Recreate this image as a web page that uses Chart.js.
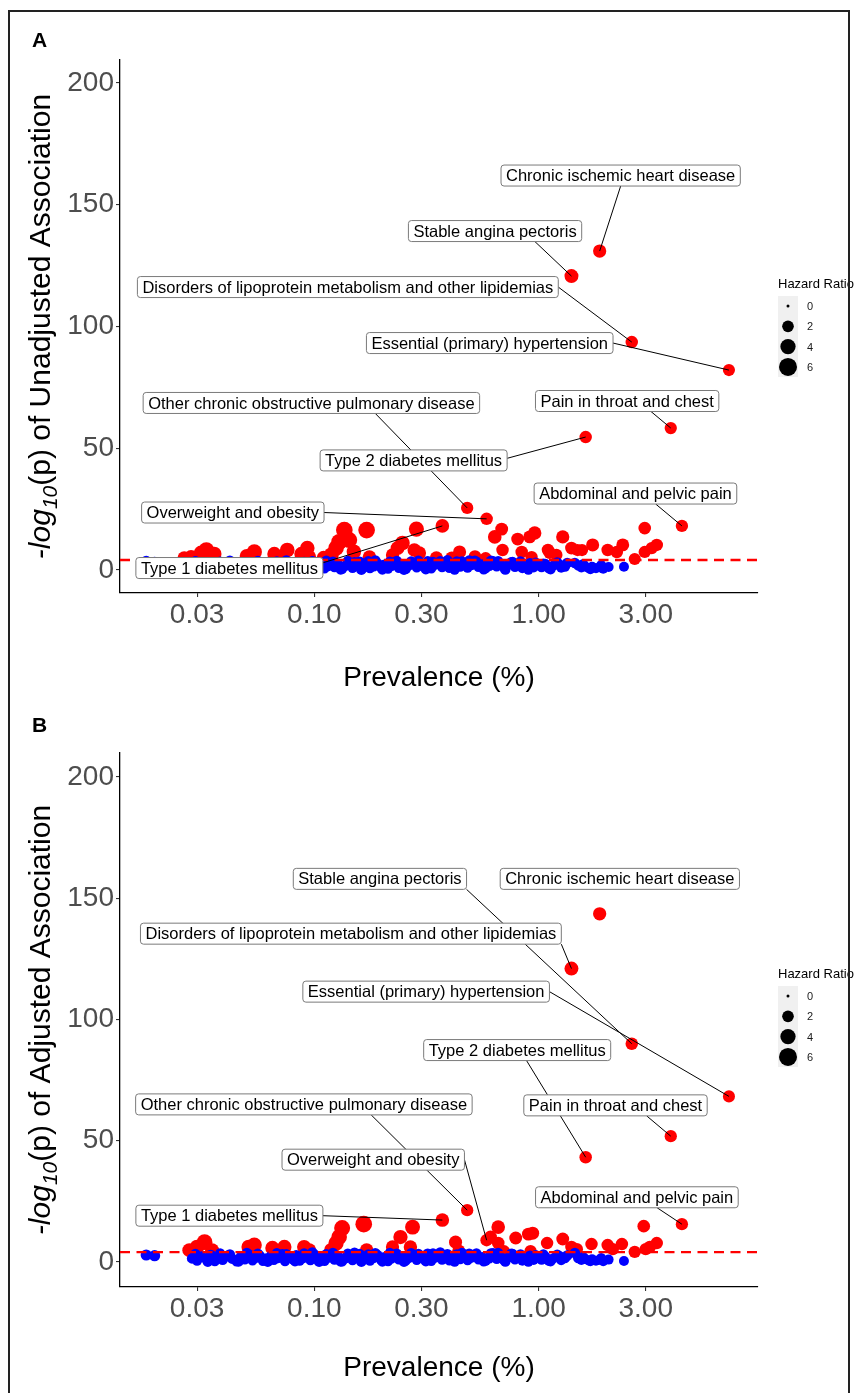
<!DOCTYPE html>
<html>
<head>
<meta charset="utf-8">
<script src="https://cdn.jsdelivr.net/npm/chart.js@4.4.1/dist/chart.umd.min.js"></script>
<style>
  body { margin: 0; background: #fff; }
  #page { position: relative; width: 858px; height: 1393px; overflow: hidden; }
  .panel { position: absolute; left: 0; width: 858px; }
  #frame { position: absolute; left: 8px; top: 10px; width: 842px; height: 1400px; border: 2px solid #222; box-sizing: border-box; pointer-events: none; }
</style>
</head>
<body>
<div id="page">
  <div class="panel" style="top:0;height:692px"><canvas id="chartA"></canvas></div>
  <div class="panel" style="top:692px;height:701px"><canvas id="chartB"></canvas></div>
  <div id="frame"></div>
</div>
<script>
const FONT = '"Liberation Sans", Arial, sans-serif';

// axis ticks
const xTicks = [0.03, 0.1, 0.3, 1, 3];
const yTicks = [0, 50, 100, 150, 200];
const hrLegend = [0, 2, 4, 6];
const threshold = 4.1;

// named phenotypes (prevalence %, hazard ratio)
const labelNames = [
  "Chronic ischemic heart disease",
  "Stable angina pectoris",
  "Disorders of lipoprotein metabolism and other lipidemias",
  "Essential (primary) hypertension",
  "Other chronic obstructive pulmonary disease",
  "Pain in throat and chest",
  "Type 2 diabetes mellitus",
  "Overweight and obesity",
  "Abdominal and pelvic pain",
  "Type 1 diabetes mellitus"
];
const labelPrev = [1.87, 1.40, 2.60, 7.05, 0.48, 3.88, 1.62, 0.586, 4.35, 0.372];
const labelHR = [2.8, 3.2, 2.4, 2.2, 2.3, 2.3, 2.4, 2.4, 2.3, 3.0];
const aLabelP = [131, 120.7, 93.6, 82.1, 25.5, 58.3, 54.6, 21.0, 18.1, 18.1];
const bLabelP = [143.6, 121, 90, 68.3, 21.4, 51.9, 43.2, 9.0, 15.6, 17.3];

// other significant phenotypes (red)
const aRedX = [0.0263,0.0282,0.0313,0.033,0.0358,0.050,0.054,0.0663,0.070,0.0757,0.0875,0.093,0.095,0.11,0.119,0.125,0.129,0.136,0.143,0.15,0.171,0.176,0.223,0.235,0.247,0.279,0.285,0.294,0.35,0.41,0.444,0.52,0.58,0.637,0.684,0.69,0.806,0.84,0.912,0.93,0.96,1.10,1.12,1.20,1.28,1.40,1.49,1.56,1.74,2.03,2.23,2.37,2.68,2.97,2.97,3.19,3.36];
const aRedY = [4.9,5.3,7.0,8.2,6.6,5.7,7.4,6.6,5.3,8.2,6.6,9.0,5.3,5.0,6.2,9.0,11.5,16.4,12.3,7.5,16.4,5.3,6.2,9.0,11.1,8.2,16.8,7.0,5.0,5.0,7.4,5.5,4.8,13.6,16.8,8.2,12.7,7.4,13.6,5.3,15.2,8.2,7.0,6.2,13.6,9.0,8.2,8.2,10.3,8.2,7.4,10.3,4.5,17.2,7.4,9.0,10.3];
const aRedHR = [3.0,3.2,3.8,4.3,3.5,3.4,4.0,3.3,3.0,3.6,3.3,3.6,3.0,3.2,3.8,4.2,4.5,5.0,4.5,3.5,5.0,3.0,2.8,3.2,3.6,3.0,3.9,2.8,2.8,2.6,2.7,2.5,2.4,3.0,2.6,2.4,2.6,2.4,2.6,2.3,2.9,2.4,2.3,2.2,2.8,2.5,2.3,2.3,2.7,2.4,2.4,2.6,2.2,2.5,2.3,2.3,2.4];

const bRedX = [0.0277,0.030,0.0324,0.035,0.051,0.054,0.065,0.0735,0.090,0.095,0.119,0.125,0.129,0.133,0.166,0.171,0.223,0.242,0.268,0.274,0.426,0.44,0.61,0.66,0.66,0.70,0.79,0.90,0.92,0.94,1.09,1.28,1.40,1.48,1.72,2.03,2.14,2.35,2.68,2.94,3.0,3.13,3.36];
const bRedY = [4.9,6.2,8.2,4.9,6.2,7.0,5.8,6.2,6.2,4.9,4.9,7.8,10.3,14.0,15.6,4.9,6.2,10.3,6.2,14.4,8.2,4.6,10.3,14.4,7.8,4.4,9.9,11.5,4.5,11.9,7.8,9.5,6.2,5.3,7.4,7.0,5.3,7.4,4.2,14.8,5.3,6.2,7.8];
const bRedHR = [3.2,3.6,4.3,3.2,3.6,3.8,3.4,3.4,3.3,3.0,3.5,4.0,4.2,4.5,5.0,3.0,2.8,3.4,2.9,3.8,2.7,2.6,2.6,3.0,2.5,2.4,2.6,2.6,2.3,2.7,2.4,2.6,2.4,2.3,2.4,2.4,2.3,2.4,2.3,2.5,2.3,2.4,2.4];

// non-significant phenotypes (blue)
const blueX = [0.0178,0.0194,0.0285,0.030,0.0315,0.033,0.0345,0.036,0.0375,0.039,
  0.041,0.043,0.045,0.047,0.049,0.051,0.053,0.055,0.057,0.059,
  0.061,0.064,0.066,0.069,0.072,0.074,0.077,0.080,0.083,0.086,
  0.089,0.092,0.096,0.099,0.103,0.107,0.111,0.115,0.119,0.123,
  0.128,0.133,0.138,0.143,0.148,0.153,0.159,0.165,0.171,0.177,
  0.184,0.191,0.198,0.205,0.213,0.221,0.229,0.238,0.247,0.256,
  0.265,0.275,0.286,0.297,0.308,0.320,0.332,0.345,0.358,0.371,
  0.385,0.400,0.415,0.431,0.447,0.464,0.482,0.500,0.519,0.539,
  0.560,0.581,0.603,0.626,0.650,0.675,0.700,0.727,0.755,0.784,
  0.815,0.846,0.880,0.915,0.950,0.99,1.03,1.07,1.11,1.16,
  1.21,1.26,1.31,1.45,1.50,1.55,1.61,1.67,1.73,1.80,
  1.87,1.94,2.40,
  0.0295,0.0335,0.038,0.042,0.046,0.050,0.056,0.062,0.068,0.075,
  0.082,0.090,0.098,0.105,0.113,0.121,0.131,0.141,0.151,0.162,
  0.174,0.187,0.201,0.217,0.233,0.251,0.270,0.291,0.314,0.338,
  0.364,0.392,0.422,0.455,0.490,0.528,0.569,0.613,0.66,0.71,
  0.765,0.83,0.90,0.97,1.05,1.13,1.24,1.34,1.58,1.70,
  1.90,2.05];
const blueHR = [1.8,1.8,1.5,1.4,1.6,1.5,1.7,1.4,1.6,1.5,
  1.6,1.5,1.4,1.6,1.5,1.7,1.4,1.5,1.6,1.4,
  1.5,1.6,1.4,1.5,1.7,1.4,1.6,1.5,1.6,1.4,
  1.5,1.6,1.4,1.7,1.5,1.6,1.4,1.5,1.6,1.5,
  1.6,1.4,1.5,1.6,1.4,1.5,1.7,1.5,1.6,1.4,
  1.5,1.6,1.4,1.5,1.4,1.5,1.6,1.4,1.5,1.4,
  1.5,1.6,1.4,1.5,1.4,1.6,1.4,1.5,1.5,1.4,
  1.5,1.4,1.5,1.6,1.4,1.5,1.4,1.5,1.6,1.4,
  1.5,1.4,1.4,1.6,1.4,1.5,1.4,1.4,1.5,1.4,
  1.4,1.3,1.4,1.5,1.3,1.4,1.4,1.5,1.3,1.4,
  1.5,1.3,1.4,1.5,1.4,1.3,1.4,1.3,1.3,1.3,
  1.3,1.3,1.3,
  1.5,1.6,1.4,1.5,1.6,1.4,1.5,1.6,1.4,1.5,
  1.6,1.4,1.5,1.6,1.4,1.5,1.6,1.4,1.5,1.6,
  1.4,1.5,1.6,1.4,1.5,1.6,1.4,1.5,1.6,1.4,
  1.5,1.6,1.4,1.5,1.6,1.4,1.5,1.6,1.4,1.5,
  1.4,1.5,1.4,1.5,1.4,1.3,1.4,1.5,1.4,1.3,
  1.4,1.3];
const aBlueY = [3.5,3.1,1.2,0.8,2.4,1.0,2.6,0.5,2.1,1.3,
  2.2,1.6,0.4,2.7,0.9,2.3,1.1,1.9,2.9,0.6,
  1.4,2.5,0.7,2.0,3.0,0.5,1.8,1.5,2.6,0.8,
  1.9,2.2,0.6,3.1,1.1,2.4,0.7,1.6,2.8,1.2,
  2.0,0.5,1.8,2.9,0.9,1.7,3.3,1.0,2.5,0.8,
  1.5,2.6,1.2,2.2,0.6,1.7,3.2,0.9,2.1,0.5,
  2.0,2.9,1.1,1.8,1.5,3.5,0.7,2.2,2.8,1.2,
  2.4,0.9,1.9,3.4,1.4,2.6,1.0,2.0,3.7,1.3,
  2.3,0.8,1.7,3.5,1.5,2.5,1.1,2.0,3.2,1.3,
  2.2,0.7,1.6,2.8,1.0,2.1,1.2,2.5,0.6,1.8,
  3.1,0.9,1.4,2.9,1.9,1.0,1.5,0.8,1.3,0.7,
  1.1,0.5,1.3,
  3.6,0.2,3.4,3.8,0.3,3.2,3.7,0.2,3.5,3.9,
  0.4,3.3,3.6,0.2,3.8,3.4,0.3,3.7,3.2,0.2,
  3.6,3.9,0.3,3.4,3.7,0.2,3.5,3.8,0.4,3.3,
  3.6,3.9,0.2,3.5,3.8,3.4,0.3,3.7,3.6,0.2,
  3.3,3.5,0.2,3.0,2.6,0.2,2.2,2.9,2.4,0.3,
  2.0,1.2];
const bBlueY = [2.9,2.6,1.5,0.6,2.2,1.2,2.8,0.4,1.9,0.9,
  2.5,1.4,0.3,2.0,1.1,3.0,0.7,1.8,2.6,0.5,
  1.5,2.3,0.9,1.7,3.1,0.4,2.0,1.2,2.7,0.6,
  1.6,2.4,0.8,3.3,1.3,2.1,0.5,1.8,2.9,1.0,
  2.2,0.3,1.6,2.6,0.8,1.9,3.2,1.2,2.3,0.6,
  1.7,2.8,1.0,2.0,0.4,1.5,3.0,1.1,2.4,0.7,
  1.8,2.7,0.9,2.1,1.3,3.4,0.5,1.9,2.6,1.0,
  2.2,0.7,1.6,3.1,1.2,2.3,0.8,1.8,2.9,1.1,
  2.0,0.6,1.5,3.6,1.3,2.2,0.9,1.7,3.4,1.1,
  2.0,0.5,1.4,2.6,0.8,1.9,1.0,2.2,0.4,1.5,
  3.0,0.7,1.6,3.7,1.6,0.8,1.3,0.6,1.1,0.5,
  0.9,0.3,0.4,
  3.3,0.2,3.6,3.1,0.3,3.8,3.4,0.2,3.7,3.2,
  0.4,3.6,3.9,0.2,3.3,3.7,0.3,3.5,3.8,0.2,
  3.2,3.6,0.3,3.8,3.4,0.2,3.7,3.3,0.4,3.6,
  3.9,3.2,0.2,3.7,3.4,3.6,0.3,3.5,3.8,0.2,
  3.4,3.1,0.2,2.8,3.2,0.2,2.4,2.7,2.0,0.3,
  1.6,1.0];

// label layout: box centre in data units, leader start as fraction of box, leader target
const aLabelPos = [[2.32,162.0],[0.639,139.2],[0.141,116.2],[0.605,93.2],[0.097,68.6],[2.48,69.4],[0.277,45.0],[0.0433,23.6],[2.70,31.4],[0.0418,0.8]];
const aLabelAnchor = [[0.5,1],[0.73,1],[1,0.5],[1,0.5],[0.69,1],[0.63,1],[1,0.4],[1,0.5],[0.6,1],[1,0.25]];
const aTarget = [0,1,2,3,4,5,6,7,8,9];
const bLabelPos = [[2.30,158.0],[0.196,158.0],[0.1455,135.4],[0.315,111.5],[0.0898,65.0],[2.20,64.6],[0.802,87.4],[0.183,42.2],[2.74,26.7],[0.0418,19.1]];
const bLabelAnchor = [null,[1,1],[1,1],[1,0.5],[0.7,1],[0.67,1],[0.55,1],[1,0.5],[0.6,1],[1,0.5]];
const bTarget = [0,2,1,3,4,5,6,7,8,9];

function sizeOf(hr) { return 1.5 + 7.5 * Math.sqrt(Math.max(hr, 0) / 6); }
function toPts(xs, ys) { return xs.map((v, i) => ({ x: v, y: ys[i] })); }

function drawYTitle(ctx, cx, cy, rest) {
  ctx.save();
  ctx.translate(cx, cy);
  ctx.rotate(-Math.PI / 2);
  const parts = [
    { t: '-log', f: 'italic 30px ' + FONT, dy: 0 },
    { t: '10', f: 'italic 21px ' + FONT, dy: 7 },
    { t: rest, f: '30px ' + FONT, dy: 0 }
  ];
  let total = 0;
  parts.forEach(p => { ctx.font = p.f; p.w = ctx.measureText(p.t).width; total += p.w; });
  let xx = -total / 2;
  ctx.fillStyle = '#000';
  ctx.textAlign = 'left';
  ctx.textBaseline = 'alphabetic';
  parts.forEach(p => { ctx.font = p.f; ctx.fillText(p.t, xx, p.dy); xx += p.w; });
  ctx.restore();
}

function drawSizeLegend(ctx, left, base) {
  ctx.save();
  ctx.fillStyle = '#000';
  ctx.font = '13px ' + FONT;
  ctx.textAlign = 'left';
  ctx.textBaseline = 'alphabetic';
  ctx.fillText('Hazard Ratio', left, base);
  ctx.fillStyle = '#F0F0F0';
  ctx.fillRect(left, base + 8, 20, 81);
  hrLegend.forEach((v, i) => {
    const cy = base + 18 + i * 20.3;
    ctx.beginPath();
    ctx.arc(left + 10, cy, sizeOf(v), 0, Math.PI * 2);
    ctx.fillStyle = '#000';
    ctx.fill();
    ctx.font = '11px ' + FONT;
    ctx.fillStyle = '#1a1a1a';
    ctx.textBaseline = 'middle';
    ctx.fillText(String(v), left + 29, cy + 1);
  });
  ctx.restore();
}

const annotate = {
  id: 'annotate',
  afterDatasetsDraw(chart, args, o) {
    const { ctx, chartArea: ca, scales: { x, y } } = chart;
    ctx.save();
    // significance threshold
    const ty = y.getPixelForValue(threshold);
    ctx.strokeStyle = '#FF0000';
    ctx.lineWidth = 2.4;
    ctx.setLineDash([10, 6.5]);
    ctx.beginPath(); ctx.moveTo(ca.left, ty); ctx.lineTo(ca.right, ty); ctx.stroke();
    ctx.setLineDash([]);

    // label boxes
    ctx.font = '16.5px ' + FONT;
    const boxes = o.pos.map((p, i) => {
      const w = ctx.measureText(labelNames[i]).width + 10, h = 21;
      const cx = x.getPixelForValue(p[0]), cy = y.getPixelForValue(p[1]);
      return { l: cx - w / 2, t: cy - h / 2, w, h, cx, cy };
    });
    ctx.strokeStyle = '#000';
    ctx.lineWidth = 1;
    boxes.forEach((b, i) => {
      const a = o.anchor[i];
      if (!a) return;
      const k = o.target[i];
      const px = x.getPixelForValue(labelPrev[k]), py = y.getPixelForValue(o.vals[k]);
      ctx.beginPath();
      ctx.moveTo(b.l + a[0] * b.w, b.t + a[1] * b.h);
      ctx.lineTo(px, py);
      ctx.stroke();
    });
    boxes.forEach((b, i) => {
      ctx.beginPath();
      ctx.roundRect(b.l, b.t, b.w, b.h, 3);
      ctx.fillStyle = '#fff';
      ctx.fill();
      ctx.strokeStyle = '#7a7a7a';
      ctx.lineWidth = 1;
      ctx.stroke();
      ctx.fillStyle = '#000';
      ctx.textAlign = 'center';
      ctx.textBaseline = 'middle';
      ctx.fillText(labelNames[i], b.cx, b.cy + 1);
    });
    ctx.restore();
  },
  afterDraw(chart, args, o) {
    const { ctx, chartArea: ca } = chart;
    ctx.save();
    drawYTitle(ctx, 50, (ca.top + ca.bottom) / 2, o.yTitle);
    ctx.fillStyle = '#000';
    ctx.font = '28px ' + FONT;
    ctx.textAlign = 'center';
    ctx.textBaseline = 'alphabetic';
    ctx.fillText('Prevalence (%)', (ca.left + ca.right) / 2, o.xTitleY);
    ctx.font = 'bold 21px ' + FONT;
    ctx.textAlign = 'left';
    ctx.fillText(o.letter, 32, o.letterY);
    ctx.restore();
    drawSizeLegend(ctx, 778, o.legendY);
  }
};

function makeChart(id, p) {
  const pt = (xs, ys, hrs, color) => ({
    data: toPts(xs, ys),
    pointRadius: c => sizeOf(hrs[c.dataIndex]),
    pointBackgroundColor: color,
    pointBorderWidth: 0,
    borderWidth: 0,
    showLine: false
  });
  const tickFont = { family: FONT, size: 28 };
  return new Chart(document.getElementById(id), {
    type: 'scatter',
    data: {
      datasets: [
        pt(labelPrev, p.vals, labelHR, '#FF0000'),
        pt(blueX, p.blueY, blueHR, '#0000FF'),
        pt(p.redX, p.redY, p.redHR, '#FF0000')
      ]
    },
    options: {
      responsive: true,
      maintainAspectRatio: false,
      animation: false,
      events: [],
      layout: { padding: { top: p.top, right: 100, left: 0, bottom: 0 } },
      plugins: {
        legend: { display: false },
        tooltip: { enabled: false },
        annotate: {
          pos: p.pos, anchor: p.anchor, target: p.target, vals: p.vals,
          yTitle: p.yTitle, xTitleY: p.xTitleY, letter: p.letter, letterY: p.letterY, legendY: p.legendY
        }
      },
      scales: {
        x: {
          type: 'logarithmic',
          min: 0.0136, max: 9.5,
          afterBuildTicks: s => { s.ticks = xTicks.map(v => ({ value: v })); },
          afterFit: s => { s.height = p.xAxisH; },
          ticks: { callback: v => Number(v).toFixed(2), font: tickFont, color: '#4D4D4D', padding: 1, maxRotation: 0, autoSkip: false },
          grid: { display: true, drawOnChartArea: false, tickLength: 4, color: '#333', lineWidth: 1.1 },
          border: { display: true, color: '#000', width: 1.3 }
        },
        y: {
          min: p.ymin, max: p.ymax,
          afterBuildTicks: s => { s.ticks = yTicks.map(v => ({ value: v })); },
          afterFit: s => { s.width = 120; },
          ticks: { font: tickFont, color: '#4D4D4D', padding: 2 },
          grid: { display: true, drawOnChartArea: false, tickLength: 4, color: '#333', lineWidth: 1.1 },
          border: { display: true, color: '#000', width: 1.3 }
        }
      }
    },
    plugins: [annotate]
  });
}

makeChart('chartA', {
  vals: aLabelP, redX: aRedX, redY: aRedY, redHR: aRedHR, blueY: aBlueY,
  pos: aLabelPos, anchor: aLabelAnchor, target: aTarget,
  top: 60, xAxisH: 99, ymin: -9.45, ymax: 209.45,
  yTitle: '(p) of Unadjusted Association', xTitleY: 686, letter: 'A', letterY: 47, legendY: 288
});
makeChart('chartB', {
  vals: bLabelP, redX: bRedX, redY: bRedY, redHR: bRedHR, blueY: bBlueY,
  pos: bLabelPos, anchor: bLabelAnchor, target: bTarget,
  top: 61, xAxisH: 106, ymin: -10.3, ymax: 209.9,
  yTitle: '(p) of Adjusted Association', xTitleY: 684, letter: 'B', letterY: 40, legendY: 286
});
</script>
</body>
</html>
